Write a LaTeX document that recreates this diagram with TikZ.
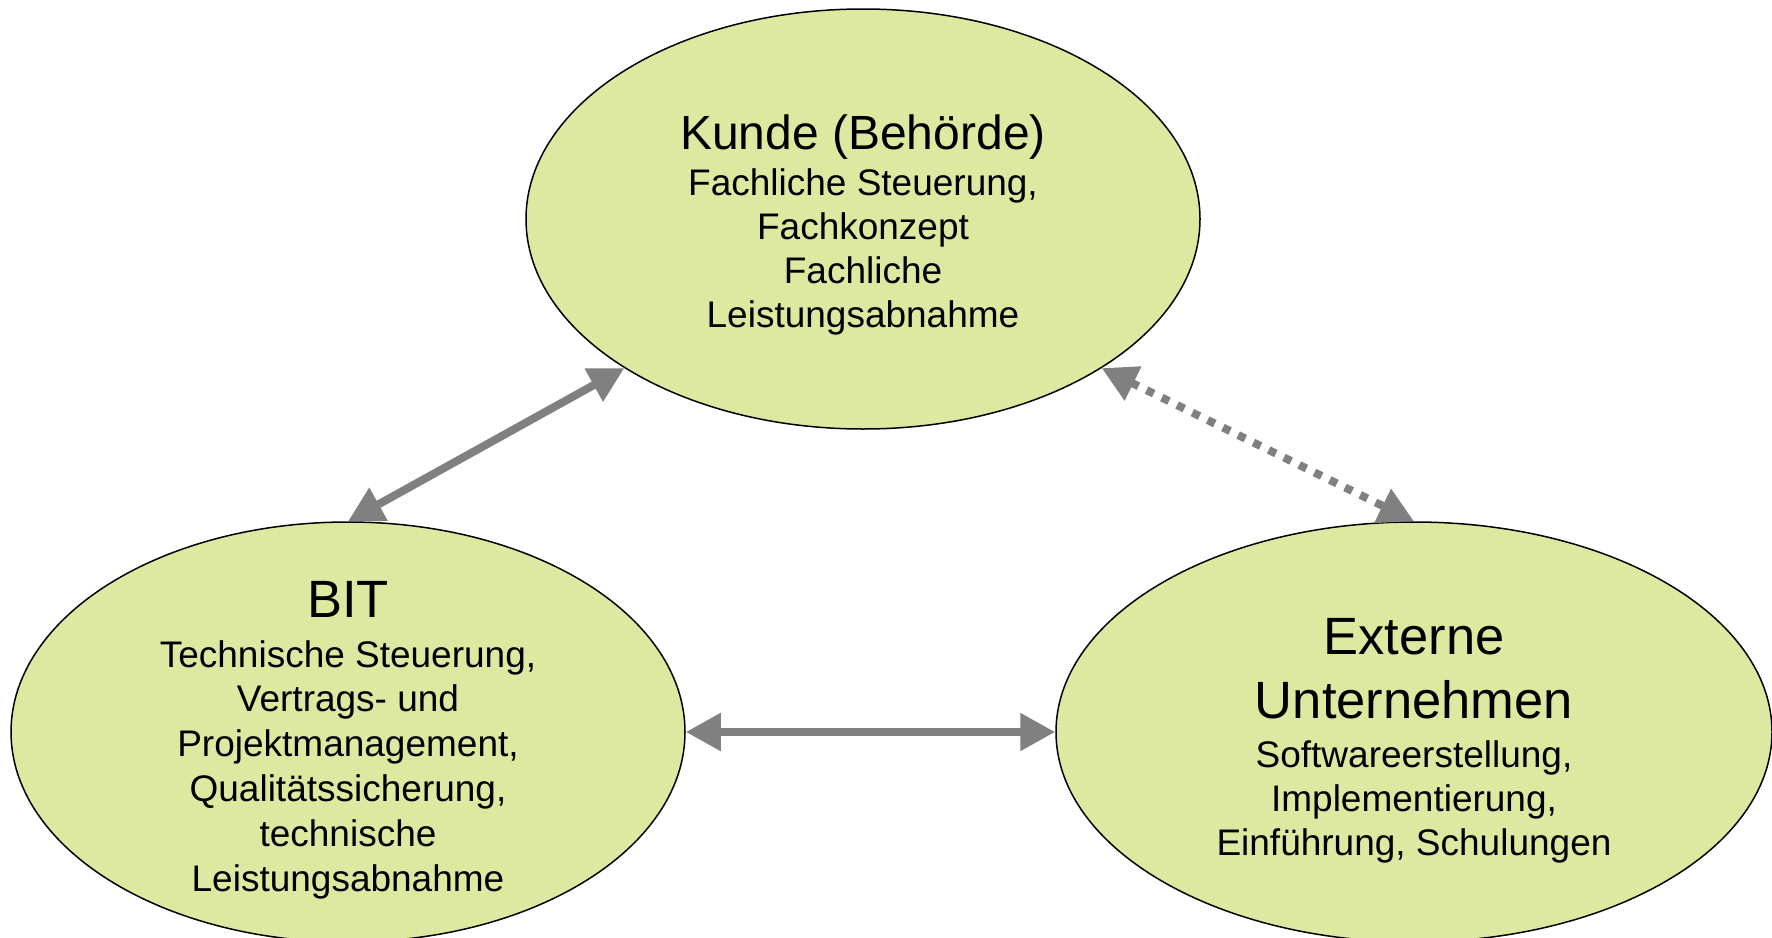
\documentclass[tikz,border=0pt]{standalone}
\usepackage{fontspec}
\setmainfont{Liberation Sans}
\usepackage{xcolor}
\usepackage{tikz}
\usetikzlibrary{shapes.geometric,arrows.meta,positioning}
\definecolor{partyfill}{RGB}{221,233,160}
\definecolor{linkgray}{RGB}{128,128,128}
\newcommand{\smalltitle}{\fontsize{24}{28}\selectfont}
\newcommand{\bigtitle}{\fontsize{26.25}{32}\selectfont}

\begin{document}
\begin{tikzpicture}[
    x=0.5pt, y=-0.5pt,
    party/.style={ellipse, draw=black, line width=0.75pt, fill=partyfill, inner sep=0pt},
    partytext/.style={inner sep=0pt, align=center, font=\fontsize{18.5}{22}\selectfont},
    link/.style={draw=linkgray, line width=4pt,
        {Triangle[length=17.5pt,width=18pt]}-{Triangle[length=17.5pt,width=18pt]}},
    dotlink/.style={link, dash pattern=on 4pt off 4.5pt}
]
    \useasboundingbox (0,0) rectangle (1772,937);

    \node[party, minimum width=337pt, minimum height=210pt] (kunde) at (863,219) {};
    \node[party, minimum width=337pt, minimum height=210pt] (bit) at (348,732) {};
    \node[party, minimum width=358pt, minimum height=210pt] (ext) at (1414,732) {};

    \node[partytext] (kundetext) at (863,225)
        {{\smalltitle Kunde (Behörde)}\\[1pt] Fachliche Steuerung,\\ Fachkonzept\\ Fachliche\\ Leistungsabnahme};
    \node[partytext, font=\fontsize{18.5}{22.4}\selectfont] (bittext) at (348,740)
        {{\bigtitle BIT}\\[2.5pt] Technische Steuerung,\\ Vertrags- und\\ Projektmanagement,\\ Qualitätssicherung,\\ technische\\ Leistungsabnahme};
    \node[partytext] (exttext) at (1414,741)
        {{\bigtitle Externe}\\[10pt] {\bigtitle Unternehmen}\\[2.5pt] Softwareerstellung,\\ Implementierung,\\ Einführung, Schulungen};

    \draw[link] (bit.north) -- (kunde.212);
    \draw[dotlink] (kunde.328) -- (ext.north);
    \draw[link] (bit.east) -- (ext.west);
\end{tikzpicture}
\end{document}
